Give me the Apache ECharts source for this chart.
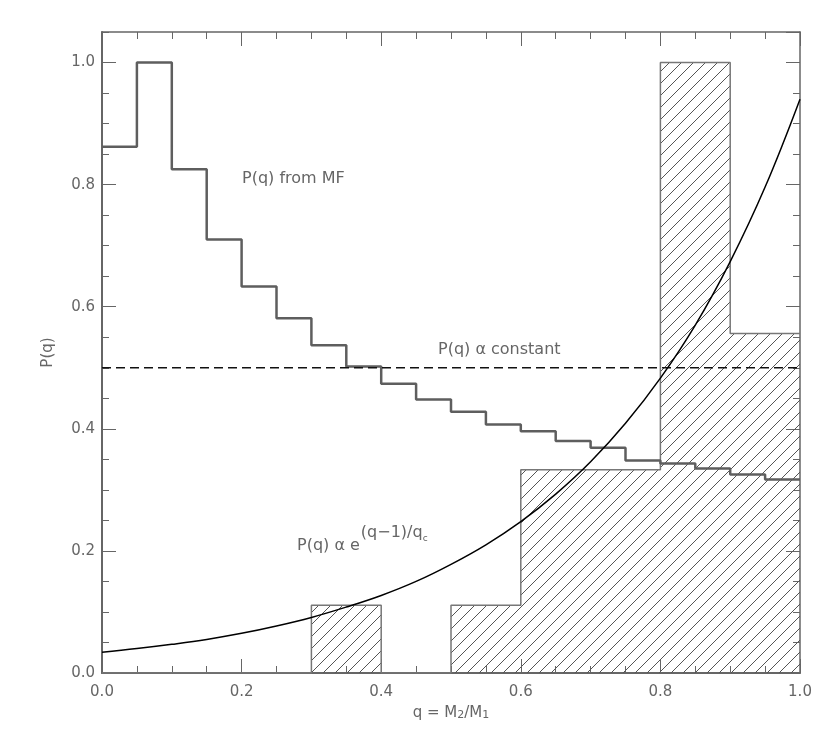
<!DOCTYPE html>
<html>
<head>
<meta charset="utf-8">
<script src="https://cdn.jsdelivr.net/npm/echarts@6/dist/echarts.min.js"></script>
<style>
html, body { margin: 0; padding: 0; background: #fff; }
#main { width: 830px; height: 738px; }
</style>
</head>
<body>
<div id="main"></div>
<script>
// P(q) derived from the mass function: 0.05 wide bins (left edges)
var mfEdges  = [0.00, 0.05, 0.10, 0.15, 0.20, 0.25, 0.30, 0.35, 0.40, 0.45,
                0.50, 0.55, 0.60, 0.65, 0.70, 0.75, 0.80, 0.85, 0.90, 0.95];
var mfValues = [0.862, 1.000, 0.825, 0.710, 0.633, 0.581, 0.537, 0.502, 0.474, 0.448,
                0.428, 0.407, 0.396, 0.380, 0.369, 0.348, 0.343, 0.335, 0.325, 0.317];

// observed distribution (hatched): 0.1 wide bins (left edges)
var obsEdges  = [0.0, 0.1, 0.2, 0.3, 0.4, 0.5, 0.6, 0.7, 0.8, 0.9];
var obsValues = [0, 0, 0, 0.111, 0, 0.111, 0.333, 0.333, 1.000, 0.556];
var binEnd = 1.0;

// exponential curve
var curveQ = [0.00, 0.05, 0.10, 0.15, 0.20, 0.25, 0.30, 0.35, 0.40, 0.45, 0.50,
              0.55, 0.60, 0.65, 0.70, 0.75, 0.80, 0.85, 0.90, 0.95, 1.00];
var curveP = [0.034, 0.040, 0.047, 0.055, 0.065, 0.077, 0.091, 0.108, 0.127, 0.150, 0.178,
              0.210, 0.248, 0.293, 0.346, 0.409, 0.483, 0.570, 0.674, 0.796, 0.940];

// flat distribution
var constQ = [0, 1];
var constP = [0.5, 0.5];

var FONT = 'DejaVu Sans';
var TXT = '#666';
var AX = '#666';

function stepData(edges, vals) {
  var d = edges.map(function (e, i) { return [e, vals[i]]; });
  d.push([binEnd, vals[vals.length - 1]]);
  return d;
}

// diagonal hatch tile
function hatchPattern() {
  var s = 12;
  var c = document.createElement('canvas');
  c.width = s; c.height = s;
  var g = c.getContext('2d');
  g.strokeStyle = '#555';
  g.lineWidth = 1;
  g.beginPath();
  g.moveTo(-1, s + 1); g.lineTo(s + 1, -1);
  g.moveTo(-1, 1); g.lineTo(1, -1);
  g.moveTo(s - 1, s + 1); g.lineTo(s + 1, s - 1);
  g.stroke();
  return { image: c, repeat: 'repeat' };
}

function axis(pos, max, interval, len, lineW, labels) {
  return {
    type: 'value',
    position: pos,
    min: 0,
    max: max,
    interval: interval,
    axisLine: { show: lineW > 0, onZero: false, lineStyle: { color: AX, width: lineW } },
    axisTick: { show: true, inside: true, length: len, lineStyle: { color: AX, width: 1 } },
    axisLabel: labels ? {
      show: true, color: TXT, fontSize: 15, fontFamily: FONT,
      showMaxLabel: max === 1, margin: labels,
      formatter: function (v) { return v.toFixed(1); }
    } : { show: false },
    splitLine: { show: false }
  };
}

var xMain = axis('bottom', 1, 0.2, 14, 2, 12);
xMain.name = '{a|q = M}{s|2}{a|/M}{s|1}';
xMain.nameLocation = 'middle';
xMain.nameGap = 30;
xMain.nameTextStyle = {
  color: TXT, fontFamily: FONT, fontSize: 15,
  rich: {
    a: { color: TXT, fontFamily: FONT, fontSize: 15, lineHeight: 18, verticalAlign: 'bottom' },
    s: { color: TXT, fontFamily: FONT, fontSize: 11, lineHeight: 12, verticalAlign: 'bottom' }
  }
};

var yMain = axis('left', 1.05, 0.2, 14, 2, 7);
yMain.name = 'P(q)';
yMain.nameLocation = 'middle';
yMain.nameGap = 46;
yMain.nameTextStyle = { color: TXT, fontFamily: FONT, fontSize: 15 };

var ANN = '16px ' + FONT;
var ctx = document.createElement('canvas').getContext('2d');
ctx.font = ANN;
var baseTxt = 'P(q) α e';
var supTxt = '(q\u22121)/q';
var expX = 297;
var baseW = ctx.measureText(baseTxt).width;
var supW = ctx.measureText(supTxt).width;

var chart = echarts.init(document.getElementById('main'), null, { renderer: 'canvas' });

var option = {
  backgroundColor: '#fff',
  animation: false,
  grid: { left: 102, right: 30, top: 32, bottom: 65 },
  xAxis: [
    xMain,
    axis('bottom', 1, 0.05, 7, 0, 0),
    axis('top', 1, 0.2, 14, 1.5, 0),
    axis('top', 1, 0.05, 7, 0, 0)
  ],
  yAxis: [
    yMain,
    axis('left', 1.05, 0.05, 7, 0, 0),
    axis('right', 1.05, 0.2, 14, 1.5, 0),
    axis('right', 1.05, 0.05, 7, 0, 0)
  ],
  series: [
    {
      name: 'observed',
      type: 'line',
      step: 'end',
      data: stepData(obsEdges, obsValues),
      symbol: 'none',
      lineStyle: { color: '#777', width: 1.5 },
      areaStyle: { color: hatchPattern(), opacity: 1 },
      z: 1
    },
    {
      name: 'P(q) from MF',
      type: 'line',
      step: 'end',
      data: stepData(mfEdges, mfValues),
      symbol: 'none',
      lineStyle: { color: '#5e5e5e', width: 2.5 },
      z: 3
    },
    {
      name: 'constant',
      type: 'line',
      data: constQ.map(function (q, i) { return [q, constP[i]]; }),
      symbol: 'none',
      lineStyle: { color: '#111', width: 1.5, type: [9, 5] },
      z: 4
    },
    {
      name: 'exponential',
      type: 'line',
      smooth: 0.4,
      data: curveQ.map(function (q, i) { return [q, curveP[i]]; }),
      symbol: 'none',
      lineStyle: { color: '#000', width: 1.5 },
      z: 5
    }
  ],
  graphic: [
    {
      type: 'text', x: 242, y: 179,
      style: { text: 'P(q) from MF', fill: TXT, font: ANN, verticalAlign: 'middle', textVerticalAlign: 'middle' }
    },
    {
      type: 'text', x: 438, y: 350,
      style: { text: 'P(q) α constant', fill: TXT, font: ANN, verticalAlign: 'middle', textVerticalAlign: 'middle' }
    },
    {
      type: 'text', x: expX, y: 546,
      style: { text: baseTxt, fill: TXT, font: ANN, verticalAlign: 'middle', textVerticalAlign: 'middle' }
    },
    {
      type: 'text', x: expX + baseW + 1, y: 533,
      style: { text: supTxt, fill: TXT, font: ANN, verticalAlign: 'middle', textVerticalAlign: 'middle' }
    },
    {
      type: 'text', x: expX + baseW + supW + 1, y: 539,
      style: { text: 'c', fill: TXT, font: '9px ' + FONT, verticalAlign: 'middle', textVerticalAlign: 'middle' }
    }
  ]
};

chart.setOption(option);
</script>
</body>
</html>
